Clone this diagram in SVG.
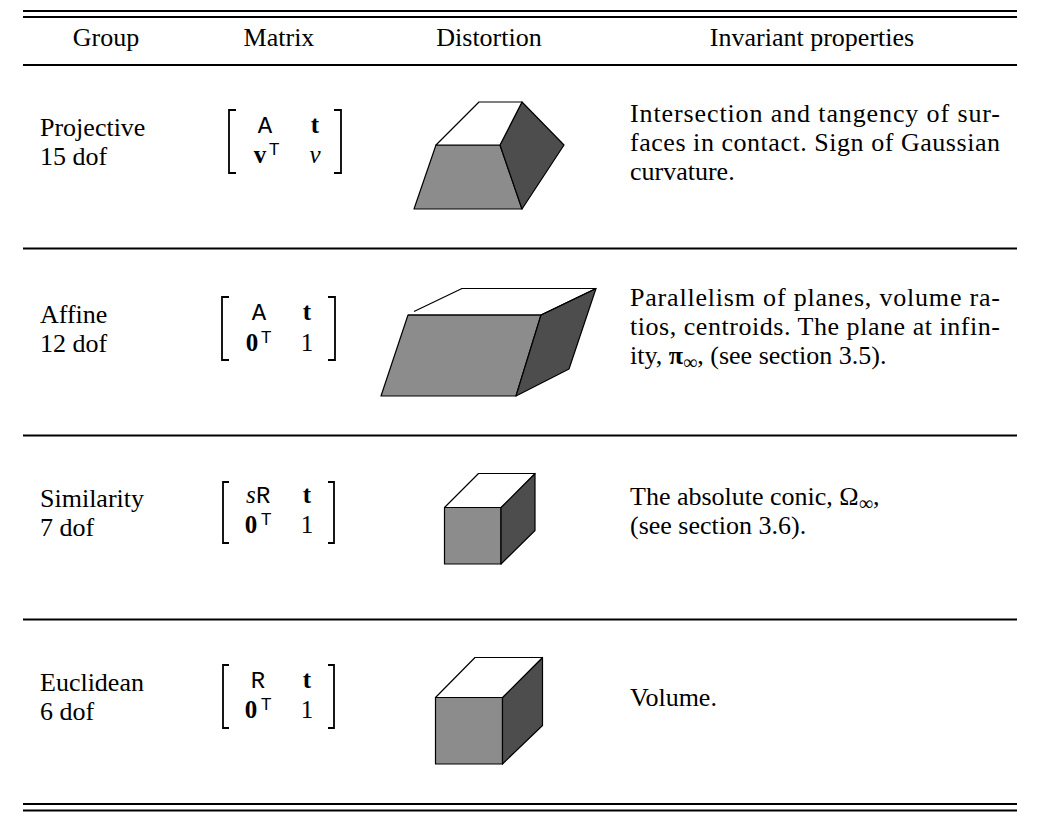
<svg xmlns="http://www.w3.org/2000/svg" width="1040" height="826" viewBox="0 0 1040 826">
<style>
.t{font-family:"Liberation Serif","Times New Roman",serif;font-size:26px;fill:#000}
.h{text-anchor:middle}
.tt{font-family:"Liberation Mono","Courier New",monospace;font-size:24px;fill:#000}
.b{font-family:"Liberation Serif",serif;font-size:25px;font-weight:bold;fill:#000}
.r{font-family:"Liberation Serif",serif;font-size:25px;fill:#000}
.i{font-family:"Liberation Serif",serif;font-size:25px;font-style:italic;fill:#000}
.sup{font-family:"Liberation Sans",Arial,sans-serif;font-size:17px;fill:#000}
.rule{stroke:#000;stroke-width:2;fill:none}
.br{stroke:#000;stroke-width:1.8;fill:none}
.top{fill:#fff;stroke:#000;stroke-width:1.2;stroke-linejoin:round}
.front{fill:#8c8c8c;stroke:#000;stroke-width:1.2;stroke-linejoin:round}
.side{fill:#4d4d4d;stroke:#000;stroke-width:1.2;stroke-linejoin:round}
</style>
<rect width="1040" height="826" fill="#fff"/>

<g id="rules">
<line class="rule" x1="23" y1="11" x2="1017" y2="11"/>
<line class="rule" x1="23" y1="17" x2="1017" y2="17"/>
<line class="rule" x1="23" y1="65" x2="1017" y2="65"/>
<line class="rule" x1="23" y1="248.5" x2="1017" y2="248.5"/>
<line class="rule" x1="23" y1="435.5" x2="1017" y2="435.5"/>
<line class="rule" x1="23" y1="619.5" x2="1017" y2="619.5"/>
<line class="rule" x1="23" y1="804" x2="1017" y2="804" stroke-width="2.4"/>
<line class="rule" x1="23" y1="810.5" x2="1017" y2="810.5"/>
</g>

<g id="header">
<text class="t h" x="106" y="46">Group</text>
<text class="t h" x="279" y="46">Matrix</text>
<text class="t h" x="489" y="46">Distortion</text>
<text class="t h" x="812" y="46">Invariant properties</text>
</g>

<g id="row-projective">
<text class="t" x="40" y="136">Projective</text>
<text class="t" x="40" y="165">15 dof</text>
<path class="br" d="M236,110 H229 V173 H236"/>
<path class="br" d="M334,110 H341 V173 H334"/>
<text class="tt" x="265" y="133" text-anchor="middle">A</text>
<text class="b" x="315" y="133" text-anchor="middle">t</text>
<text class="b" x="260" y="163" text-anchor="middle">v</text>
<text class="sup" x="269" y="155">T</text>
<text class="i" x="315" y="163" text-anchor="middle">v</text>
<polygon class="front" points="436,145 500,145 522,209 414,209"/>
<polygon class="side" points="522,102 564,145 522,209 500,145"/>
<polygon class="top" points="479,102 522,102 500,145 436,145"/>
<text class="t" x="630" y="122" textLength="370" lengthAdjust="spacing">Intersection and tangency of sur-</text>
<text class="t" x="630" y="151" textLength="370" lengthAdjust="spacing">faces in contact. Sign of Gaussian</text>
<text class="t" x="630" y="180">curvature.</text>
</g>

<g id="row-affine">
<text class="t" x="40" y="323">Affine</text>
<text class="t" x="40" y="352">12 dof</text>
<path class="br" d="M229,297 H222 V360 H229"/>
<path class="br" d="M328,297 H335 V360 H328"/>
<text class="tt" x="259" y="320" text-anchor="middle">A</text>
<text class="b" x="307" y="320" text-anchor="middle">t</text>
<text class="b" x="252" y="351" text-anchor="middle">0</text>
<text class="sup" x="261" y="343">T</text>
<text class="r" x="307" y="351" text-anchor="middle">1</text>
<polygon class="front" points="408,315 541,315 516,396 381,396"/>
<polygon class="side" points="596,288.5 569,369 516,396 541,315"/>
<polyline points="541,315 408,315" fill="none" stroke="#000" stroke-width="1.2"/>
<polyline points="414,311.5 462,288.5 596,288.5 541,315" fill="none" stroke="#000" stroke-width="1.2" stroke-linejoin="round"/>
<text class="t" x="630" y="306" textLength="370" lengthAdjust="spacing">Parallelism of planes, volume ra-</text>
<text class="t" x="630" y="335" textLength="370" lengthAdjust="spacing">tios, centroids. The plane at infin-</text>
<text class="t" x="630" y="364">ity, <tspan font-weight="bold">π</tspan><tspan font-size="20" dy="5">∞</tspan><tspan dy="-5">, (see section 3.5).</tspan></text>
</g>

<g id="row-similarity">
<text class="t" x="40" y="507">Similarity</text>
<text class="t" x="40" y="536">7 dof</text>
<path class="br" d="M229,482 H223 V543 H229"/>
<path class="br" d="M328,482 H334 V543 H328"/>
<text class="i" x="246" y="503">s</text>
<text class="tt" x="256" y="503">R</text>
<text class="b" x="307" y="503" text-anchor="middle">t</text>
<text class="b" x="251" y="533" text-anchor="middle">0</text>
<text class="sup" x="261" y="525">T</text>
<text class="r" x="307" y="533" text-anchor="middle">1</text>
<polygon class="front" points="444.5,507.5 501,507.5 501,564 444.5,564"/>
<polygon class="side" points="501,507.5 535,473.5 535,530.5 501,564"/>
<polygon class="top" points="444.5,507.5 478.5,473.5 535,473.5 501,507.5"/>
<text class="t" x="630" y="505">The absolute conic, Ω<tspan font-size="20" dy="5">∞</tspan><tspan dy="-5">,</tspan></text>
<text class="t" x="630" y="534">(see section 3.6).</text>
</g>

<g id="row-euclidean">
<text class="t" x="40" y="691">Euclidean</text>
<text class="t" x="40" y="720">6 dof</text>
<path class="br" d="M229,665 H223 V728 H229"/>
<path class="br" d="M328,665 H334 V728 H328"/>
<text class="tt" x="258" y="688" text-anchor="middle">R</text>
<text class="b" x="307" y="688" text-anchor="middle">t</text>
<text class="b" x="251" y="718" text-anchor="middle">0</text>
<text class="sup" x="261" y="710">T</text>
<text class="r" x="307" y="718" text-anchor="middle">1</text>
<polygon class="front" points="435.5,697.5 502.5,697.5 502.5,764 435.5,764"/>
<polygon class="side" points="502.5,697.5 542.5,657.5 542.5,725.5 502.5,764"/>
<polygon class="top" points="435.5,697.5 475,657.5 542.5,657.5 502.5,697.5"/>
<text class="t" x="630" y="706">Volume.</text>
</g>
</svg>
